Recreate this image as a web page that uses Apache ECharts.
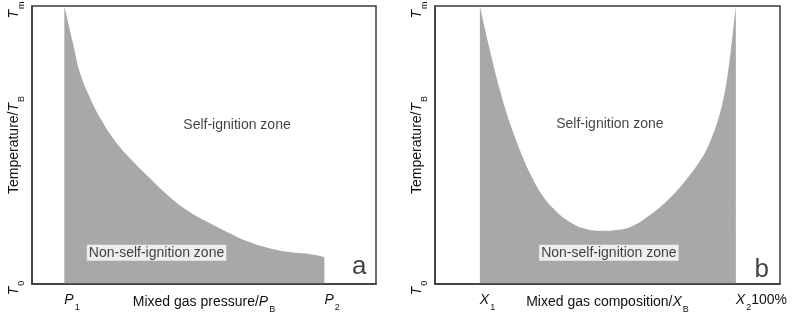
<!DOCTYPE html>
<html>
<head>
<meta charset="utf-8">
<script src="https://cdn.jsdelivr.net/npm/echarts@6/dist/echarts.min.js"></script>
<style>
html,body{margin:0;padding:0;background:#fff;}
#chart{width:800px;height:316px;}
</style>
</head>
<body>
<div id="chart"></div>
<script>
// ---- Panel a: boundary temperature vs mixed gas pressure ----
const pressureX = [9.4, 11.9, 13.85, 16.75, 19.65, 24.6, 29.8, 34.2, 40.0, 45.8, 51.6, 57.4, 63.2, 69.0, 74.8, 80.6, 85.0];
const pressureT = [100, 86.7, 76.3, 67.3, 60.1, 50.7, 43.5, 38.1, 31.3, 25.9, 21.9, 18.3, 15.1, 12.9, 11.5, 10.8, 9.7];

// ---- Panel b: boundary temperature vs mixed gas composition ----
const compX = [13.0, 15.9, 18.8, 21.7, 24.6, 27.5, 31.2, 35.3, 39.1, 42.8, 47.8, 52.7, 57.3, 62.3, 67.2, 71.8, 76.8, 79.7, 82.6, 84.6, 86.1, 87.2];
const compT = [100, 84.2, 69.8, 57.9, 48.2, 39.9, 31.7, 25.9, 22.3, 20.1, 19.1, 19.4, 20.9, 24.8, 29.9, 36.0, 44.2, 51.1, 61.5, 73.4, 87.8, 100];

// ---- Tick labels ----
const pressureTickValues = [9.4, 85.0];
const pressureTickSymbols = ['P', 'P'];
const pressureTickSubs = ['1', '2'];
const pressureTickSuffix = ['', ''];

const compTickValues = [13.0, 87.2];
const compTickSymbols = ['X', 'X'];
const compTickSubs = ['1', '2'];
const compTickSuffix = ['', '100%'];

const tempTickValues = [0, 100];
const tempTickSymbols = ['T', 'T'];
const tempTickSubs = ['0', 'm'];

// ---- Axis titles ----
const xNameA = ['Mixed gas pressure/', 'P', 'B'];
const xNameB = ['Mixed gas composition/', 'X', 'B'];
const yName = ['Temperature/', 'T', 'B'];

// ---- Zone annotations [x, y, text] ----
const zoneLabelsA = [[59.6, 57.2, 'Self-ignition zone'], [36.2, 11.2, 'Non-self-ignition zone']];
const zoneLabelsB = [[50.7, 57.6, 'Self-ignition zone'], [50.4, 11.2, 'Non-self-ignition zone']];
const panelLetters = [[95.1, 6.1, 'a'], [94.7, 5.0, 'b']];

const FONT = '"Liberation Sans", Arial, sans-serif';
const TXT = '#111111';
const FILL = '#a8a8a8';
const BORDER = '#3a3a3a';

const rich = {
  n: {fontFamily: FONT, fontSize: 14, color: TXT, lineHeight: 16, verticalAlign: 'top'},
  i: {fontFamily: FONT, fontSize: 14, fontStyle: 'italic', color: TXT, lineHeight: 16, verticalAlign: 'top'},
  s: {fontFamily: FONT, fontSize: 9, color: TXT, lineHeight: 9, verticalAlign: 'top', padding: [10, 0, 0, 1]}
};

function tickFormatter(values, syms, subs, suffix) {
  return function (v) {
    let idx = values.findIndex(t => Math.abs(t - v) < 1e-6);
    if (idx < 0) return '';
    let s = '{i|' + syms[idx] + '}{s|' + subs[idx] + '}';
    if (suffix && suffix[idx]) s += '{n|' + suffix[idx] + '}';
    return s;
  };
}

function nameOf(parts) {
  return '{n|' + parts[0] + '}{i|' + parts[1] + '}{s|' + parts[2] + '}';
}

const grids = [
  {left: 32, top: 6, width: 344, height: 278, outerBoundsMode: 'none', containLabel: false, show: true, borderColor: BORDER, borderWidth: 1.5, backgroundColor: '#fff'},
  {left: 435, top: 6, width: 345, height: 278, outerBoundsMode: 'none', containLabel: false, show: true, borderColor: BORDER, borderWidth: 1.5, backgroundColor: '#fff'}
];

function xAxisFor(gi, values, syms, subs, suffix, nm) {
  return {
    type: 'value', gridIndex: gi, min: 0, max: 100, z: 10,
    splitLine: {show: false},
    axisLine: {show: true, onZero: false, lineStyle: {color: BORDER, width: 1.5}},
    axisTick: {show: false},
    axisLabel: {
      customValues: values, margin: 9, align: 'left',
      formatter: tickFormatter(values, syms, subs, suffix), rich: rich
    },
    name: nameOf(nm), nameLocation: 'middle', nameGap: 11, nameMoveOverlap: false,
    nameTextStyle: {rich: rich}
  };
}

function yAxisFor(gi) {
  return {
    type: 'value', gridIndex: gi, min: 0, max: 100, z: 10,
    splitLine: {show: false},
    axisLine: {show: true, onZero: false, lineStyle: {color: BORDER, width: 1.5}},
    axisTick: {show: false},
    axisLabel: {
      customValues: tempTickValues, rotate: 90, margin: 9, padding: [0, 8, 0, 0],
      formatter: tickFormatter(tempTickValues, tempTickSymbols, tempTickSubs), rich: rich
    },
    name: nameOf(yName), nameLocation: 'middle', nameGap: 9, nameRotate: 90, nameMoveOverlap: false,
    nameTextStyle: {rich: rich}
  };
}

function zipXY(xs, ys) { return xs.map((x, k) => [x, ys[k]]); }

function annotationSeries(gi, labels, letter) {
  const data = labels.map((l, k) => ({
    value: [l[0], l[1]],
    label: {
      show: true, position: 'inside', formatter: l[2],
      fontFamily: FONT, fontSize: 14, color: TXT,
      backgroundColor: k === 1 ? '#fff' : 'transparent', padding: [1, 2]
    }
  }));
  data.push({
    value: [letter[0], letter[1]],
    label: {show: true, position: 'inside', formatter: letter[2], fontFamily: FONT, fontSize: 26, color: TXT}
  });
  return {
    type: 'scatter', xAxisIndex: gi, yAxisIndex: gi, symbolSize: 1,
    itemStyle: {color: 'rgba(0,0,0,0)'}, silent: true, z: 5, data: data
  };
}

function areaSeries(gi, xs, ys) {
  return {
    type: 'line', xAxisIndex: gi, yAxisIndex: gi,
    data: zipXY(xs, ys), smooth: 0.4,
    showSymbol: false, symbol: 'none',
    lineStyle: {width: 0, color: FILL},
    areaStyle: {color: FILL, opacity: 1, origin: 'start'},
    silent: true, z: 2
  };
}

const chart = echarts.init(document.getElementById('chart'), null, {renderer: 'canvas'});
chart.setOption({
  animation: false,
  backgroundColor: '#fff',
  grid: grids,
  xAxis: [
    xAxisFor(0, pressureTickValues, pressureTickSymbols, pressureTickSubs, pressureTickSuffix, xNameA),
    xAxisFor(1, compTickValues, compTickSymbols, compTickSubs, compTickSuffix, xNameB)
  ],
  yAxis: [yAxisFor(0), yAxisFor(1)],
  series: [
    areaSeries(0, pressureX, pressureT),
    areaSeries(1, compX, compT),
    annotationSeries(0, zoneLabelsA, panelLetters[0]),
    annotationSeries(1, zoneLabelsB, panelLetters[1])
  ]
});
</script>
</body>
</html>
